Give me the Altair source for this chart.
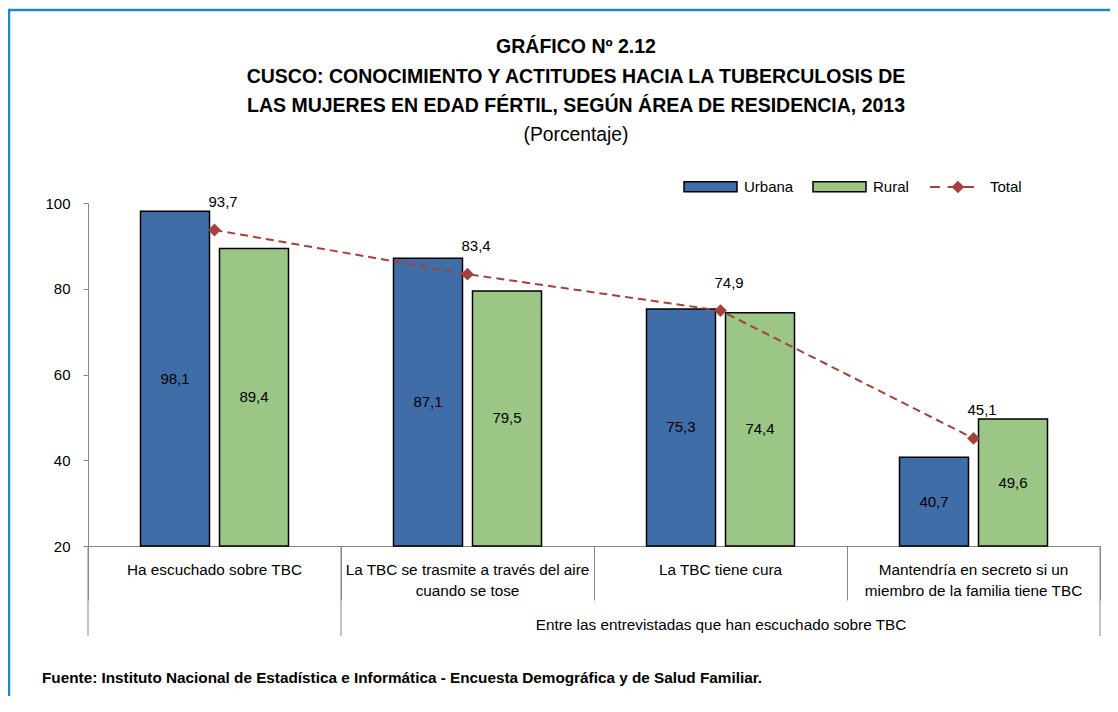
import altair as alt
import pandas as pd

# ---------------- data ----------------
categorias = [
    "Ha escuchado sobre TBC",
    "La TBC se trasmite a través del aire cuando se tose",
    "La TBC tiene cura",
    "Mantendría en secreto si un miembro de la familia tiene TBC",
]
etiquetas = [
    "Ha escuchado sobre TBC",
    "La TBC se trasmite a través del aire\ncuando se tose",
    "La TBC tiene cura",
    "Mantendría en secreto si un\nmiembro de la familia tiene TBC",
]
series = ["Urbana", "Rural"]
urbana = [98.1, 87.1, 75.3, 40.7]
rural = [89.4, 79.5, 74.4, 49.6]
total = [93.7, 83.4, 74.9, 45.1]
y_ticks = [20, 40, 60, 80, 100]
grupo = "Entre las entrevistadas que han escuchado sobre TBC"
fuente = ("Fuente: Instituto Nacional de Estadística e Informática - "
          "Encuesta Demográfica y de Salud Familiar.")
titulo = [
    "GRÁFICO Nº 2.12",
    "CUSCO: CONOCIMIENTO Y ACTITUDES HACIA LA TUBERCULOSIS DE",
    "LAS MUJERES EN EDAD FÉRTIL, SEGÚN ÁREA DE RESIDENCIA, 2013",
]
subtitulo = "(Porcentaje)"

# ---------------- styles ----------------
FONT = "Liberation Sans, Arial, sans-serif"
BLUE = "#3F6DA7"
GREEN = "#9BC685"
RED = "#A6403D"
GRAY = "#878787"
FRAME = "#1B8AC7"
BASE = 20

def fmt(v):
    return f"{v:.1f}".replace(".", ",")

rows = []
for c, u, r in zip(categorias, urbana, rural):
    rows.append({"cat": c, "serie": "Urbana", "valor": u})
    rows.append({"cat": c, "serie": "Rural", "valor": r})
bars_df = pd.DataFrame(rows)
bars_df["lbl"] = bars_df["valor"].map(fmt)
bars_df["mid"] = (bars_df["valor"] + BASE) / 2

tot_df = pd.DataFrame({"cat": categorias, "valor": total, "serie": "Total"})
tot_df["lbl"] = tot_df["valor"].map(fmt)

lab_df = pd.DataFrame({"cat": categorias, "txt": etiquetas})

W, H = 1012, 343

xscale = alt.Scale(domain=categorias, paddingInner=0, paddingOuter=0)
xaxis = alt.Axis(labels=False, title=None, tickBand="extent", tickSize=54,
                 tickColor=GRAY, domainColor=GRAY, domainWidth=1, tickWidth=1)

def X(**kw):
    return alt.X("cat:N", scale=xscale, axis=xaxis, sort=categorias, **kw)

yscale = alt.Scale(domain=[BASE, 100], nice=False, zero=False)
yaxis = alt.Axis(values=y_ticks, grid=False, title=None, labelFontSize=15,
                 tickSize=5, tickColor=GRAY, domainColor=GRAY, labelPadding=13,
                 labelColor="black")

def Y(field="valor:Q"):
    return alt.Y(field, scale=yscale, axis=yaxis)

xoff = alt.XOffset("serie:N", sort=series,
                   scale=alt.Scale(domain=series, paddingInner=0.1266, paddingOuter=0.6646))

RECT_PATH = "M-1,-0.19H1V0.19H-1Z"
TOTAL_PATH = "M-1,0H-0.55M-0.2,0H1M0.27,-0.22L0.49,0L0.27,0.22L0.05,0Z"

frame = alt.Chart(pd.DataFrame({"k": [0]})).mark_rect(
    fill="transparent", stroke=FRAME, strokeWidth=2.5
).encode(x=alt.value(-79), x2=alt.value(1040), y=alt.value(-193), y2=alt.value(540))

bars = alt.Chart(bars_df).mark_bar(stroke="black", strokeWidth=1.5).encode(
    x=X(), xOffset=xoff,
    y=Y(), y2=alt.datum(BASE),
    fill=alt.Fill("serie:N", sort=series,
                  scale=alt.Scale(domain=series, range=[BLUE, GREEN]),
                  legend=alt.Legend(title=None, orient="none", legendX=595, legendY=-44,
                                    direction="horizontal", symbolType=RECT_PATH,
                                    symbolSize=2809, symbolStrokeColor="black",
                                    symbolStrokeWidth=1.5, labelFontSize=15,
                                    labelOffset=6, columnPadding=16, labelColor="black")),
)

bar_lbl = alt.Chart(bars_df).mark_text(fontSize=15, color="black").encode(
    x=X(), xOffset=xoff, y=Y("mid:Q"), text="lbl:N"
)

line = alt.Chart(tot_df).mark_line(color=RED, strokeDash=[8, 5], strokeWidth=2).encode(
    x=X(), y=Y()
)

points = alt.Chart(tot_df).mark_point(shape="diamond", filled=True, size=100,
                                      fill=RED, opacity=1).encode(
    x=X(), y=Y(),
    stroke=alt.Stroke("serie:N", scale=alt.Scale(domain=["Total"], range=[RED]),
                      legend=alt.Legend(title=None, orient="none", legendX=841, legendY=-39,
                                        symbolType=TOTAL_PATH, symbolSize=1936,
                                        symbolStrokeWidth=2, symbolFillColor=RED,
                                        labelFontSize=15, labelOffset=15,
                                        labelColor="black")),
)

tot_lbl = alt.Chart(tot_df).mark_text(fontSize=15, align="left", dx=-6, dy=-28,
                                      color="black").encode(
    x=X(), y=Y(), text="lbl:N"
)

cat_lbl = alt.Chart(lab_df).mark_text(fontSize=15.3, baseline="top", lineBreak="\n",
                                      lineHeight=21, color="black").encode(
    x=X(), y=alt.value(H + 17), text="txt:N"
)

sep_a = alt.Chart(pd.DataFrame({"cat": categorias[:2]})).mark_rule(
    color=GRAY, strokeWidth=1).encode(
    x=X(bandPosition=0), y=alt.value(H), y2=alt.value(H + 90)
)
sep_b = alt.Chart(pd.DataFrame({"cat": categorias[-1:]})).mark_rule(
    color=GRAY, strokeWidth=1).encode(
    x=X(bandPosition=1), y=alt.value(H), y2=alt.value(H + 90)
)

grupo_txt = alt.Chart(pd.DataFrame({"t": [grupo]})).mark_text(
    fontSize=15.3, baseline="middle", color="black").encode(
    x=alt.value(633), y=alt.value(H + 79), text="t:N"
)

fuente_txt = alt.Chart(pd.DataFrame({"t": [fuente]})).mark_text(
    fontSize=15.3, fontWeight="bold", align="left", baseline="middle",
    color="black").encode(
    x=alt.value(-46), y=alt.value(475), text="t:N"
)

# title lines (text marks placed above the plot)
title_layers = []
for txt, yy in zip(titulo, [-156, -126, -97]):
    title_layers.append(
        alt.Chart(pd.DataFrame({"t": [txt]})).mark_text(
            fontSize=19.5, fontWeight="bold", baseline="middle", color="black"
        ).encode(x=alt.value(488), y=alt.value(yy), text="t:N")
    )
title_layers.append(
    alt.Chart(pd.DataFrame({"t": [subtitulo]})).mark_text(
        fontSize=19.3, baseline="middle", color="black"
    ).encode(x=alt.value(488), y=alt.value(-68), text="t:N")
)

chart = alt.layer(
    frame, bars, bar_lbl, line, points, tot_lbl, cat_lbl, sep_a, sep_b,
    grupo_txt, fuente_txt, *title_layers
).properties(
    width=W, height=H,
    autosize=alt.AutoSizeParams(type="none"),
    padding={"left": 80, "top": 195, "right": 10, "bottom": 150},
).configure(font=FONT).configure_view(stroke=None)

chart.save("out.html", embed_options={"renderer": "svg", "actions": False})
